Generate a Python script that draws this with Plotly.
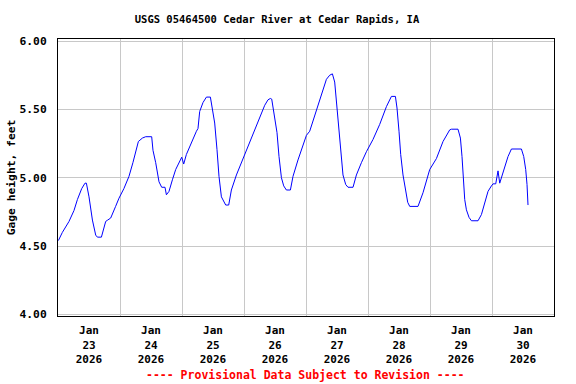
import pandas as pd
import plotly.graph_objects as go

# Hours since 2026-01-23 00:00 and gage height (feet)
hours = [0.15, 1.70, 4.26, 6.19, 7.51, 9.17, 10.45, 10.99, 12.0, 13.32, 14.59, 15.25, 16.8,
         18.46, 19.24, 20.4, 22.3, 23.61, 25.5, 27.48, 29.0, 30.08, 31.12, 32.67, 33.95, 36.27,
         36.77, 37.82, 39.1, 40.14, 41.42, 41.96, 42.97, 44.29, 45.56, 47.89, 48.66, 49.7,
         50.98, 53.58, 54.19, 54.85, 56.13, 57.45, 58.99, 59.77, 60.66, 61.55, 62.32, 63.25,
         64.53, 64.92, 66.08, 67.12, 69.06, 71.0, 72.93, 75.49, 78.08, 80.02, 81.29, 82.22,
         82.73, 83.89, 84.78, 85.55, 86.48, 87.37, 88.41, 89.96, 90.97, 92.9, 94.84, 96.16,
         97.43, 100.03, 102.58, 103.9, 105.17, 106.22, 107.11, 108.0, 108.77, 109.7, 110.32,
         111.37, 112.26, 114.2, 115.51, 117.45, 119.38, 121.94, 124.53, 127.13, 128.67,
         129.06, 130.61, 131.23, 132.0, 132.66, 133.55, 134.6, 135.37, 136.15, 139.36,
         141.29, 143.89, 146.48, 149.04, 151.63, 152.29, 154.84, 155.77, 156.39, 156.78,
         157.44, 158.1, 159.1, 160.03, 162.59, 163.9, 165.18, 166.46, 167.77, 168.39, 169.44,
         169.94, 170.33, 170.99, 171.65, 172.92, 174.2, 175.52, 179.39, 180.28, 181.05,
         181.56, 181.94]
gage = [4.54, 4.60, 4.68, 4.76, 4.84, 4.92, 4.96, 4.96, 4.86, 4.69, 4.58, 4.565, 4.565,
        4.68, 4.69, 4.705, 4.79, 4.85, 4.92, 5.01, 5.11, 5.18, 5.265, 5.29, 5.30, 5.30,
        5.20, 5.11, 4.97, 4.93, 4.93, 4.875, 4.90, 4.985, 5.06, 5.15, 5.10, 5.17,
        5.23, 5.34, 5.36, 5.485, 5.55, 5.59, 5.59, 5.50, 5.40, 5.205, 5.01, 4.86,
        4.81, 4.80, 4.80, 4.91, 5.02, 5.11, 5.205, 5.33, 5.45, 5.53, 5.57, 5.58,
        5.575, 5.45, 5.33, 5.155, 5.00, 4.94, 4.91, 4.91, 5.01, 5.13, 5.24, 5.31,
        5.34, 5.50, 5.645, 5.72, 5.75, 5.76, 5.70, 5.51, 5.34, 5.17, 5.02,
        4.95, 4.93, 4.93, 5.02, 5.11, 5.19, 5.28, 5.39, 5.52, 5.59,
        5.595, 5.595, 5.51, 5.34, 5.17, 5.02, 4.89, 4.82, 4.79, 4.79,
        4.89, 5.06, 5.14, 5.265, 5.35, 5.355, 5.355, 5.29, 5.155, 5.01,
        4.84, 4.765, 4.71, 4.685, 4.685, 4.73, 4.815, 4.90, 4.94, 4.955, 4.955,
        5.03, 5.05, 4.96, 5.00, 5.095, 5.155, 5.21, 5.21, 5.155, 5.06,
        4.95, 4.80]

start = pd.Timestamp("2026-01-23 00:00")
times = [start + pd.Timedelta(hours=h) for h in hours]

y_ticks = [4.0, 4.5, 5.0, 5.5, 6.0]
title_text = "USGS 05464500 Cedar River at Cedar Rapids, IA"
y_title = "Gage height, feet"
note_text = "---- Provisional Data Subject to Revision ----"

FONT = "DejaVu Sans Mono"
ML, MR, MT, MB = 58, 22, 39, 68
W, H = 576, 384
plot_w = W - ML - MR
plot_h = H - MT - MB

fig = go.Figure()
fig.add_trace(go.Scatter(x=times, y=gage, mode="lines",
                         line=dict(color="#0000ff", width=1), showlegend=False,
                         hoverinfo="skip"))

fig.update_layout(
    width=W, height=H,
    margin=dict(l=ML, r=MR, t=MT, b=MB, autoexpand=False),
    paper_bgcolor="white", plot_bgcolor="white",
    title=dict(text="<b>" + title_text + "</b>", x=277 / W, xanchor="center",
               y=1 - 19.5 / H, yanchor="middle", yref="container",
               font=dict(family=FONT, size=10.5, color="black")),
    xaxis=dict(
        type="date", range=["2026-01-23 00:00", "2026-01-31 00:00"],
        tickmode="linear", tick0="2026-01-23", dtick=86400000,
        ticklabelmode="period", tickformat="%b<br>%d<br>%Y",
        showgrid=True, gridcolor="#c8c8c8", gridwidth=1,
        showline=True, linecolor="black", linewidth=1, mirror=True,
        ticks="", ticklabelstandoff=4, automargin=False,
        tickfont=dict(family=FONT, size=11, color="black", weight="bold"),
        zeroline=False,
    ),
    yaxis=dict(
        range=[3.988, 6.015], tickvals=y_ticks, tickformat=".2f",
        showgrid=True, gridcolor="#c8c8c8", gridwidth=1,
        showline=True, linecolor="black", linewidth=1, mirror=True,
        ticks="", ticklabelstandoff=8, automargin=False,
        tickfont=dict(family=FONT, size=11.3, color="black", weight="bold"),
        title=dict(text="<b>" + y_title + "</b>", standoff=1,
                   font=dict(family=FONT, size=11.3, color="black")),
        zeroline=False,
    ),
    annotations=[dict(text="<b>" + note_text + "</b>",
                      x=(305 - ML) / plot_w, y=(H - MB - 375) / plot_h,
                      xref="paper", yref="paper", xanchor="center", yanchor="middle",
                      showarrow=False,
                      font=dict(family=FONT, size=11.5, color="#ff0000"))],
)

fig.write_html("out.html", config={"displayModeBar": False},
               post_script="document.body.style.margin='0';")
